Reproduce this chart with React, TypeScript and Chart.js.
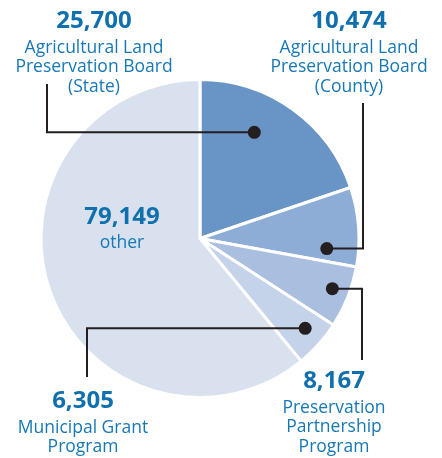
import React, { useEffect, useRef } from "react";
import { Chart, registerables } from "chart.js";

Chart.register(...registerables);

const categories = [
  "Agricultural Land Preservation Board (State)",
  "Agricultural Land Preservation Board (County)",
  "Preservation Partnership Program",
  "Municipal Grant Program",
  "other",
];
const values = [25700, 10474, 8167, 6305, 79149];
const valueLabels = ["25,700", "10,474", "8,167", "6,305", "79,149"];
const labelLines = [
  ["Agricultural Land", "Preservation Board", "(State)"],
  ["Agricultural Land", "Preservation Board", "(County)"],
  ["Preservation", "Partnership", "Program"],
  ["Municipal Grant", "Program"],
  ["other"],
];
const colors = ["#6895c5", "#8eadd6", "#aabfe0", "#c4d2ea", "#d9e1ef"];

// label layout (text anchor positions)
const labelPos = [
  { x: 94, y: 21 },
  { x: 349, y: 21 },
  { x: 334, y: 381 },
  { x: 83, y: 401 },
  { x: 122, y: 217 },
];
// leader dots: fraction along the arc's angle, fraction of radius
const dotSpec = [
  { f: 0.38, k: 0.75 },
  { f: 0.8, k: 0.8 },
  { f: 0.46, k: 0.89 },
  { f: 0.43, k: 0.87 },
  null,
];
// leader elbows: elbow x and end y
const leaderSpec = [
  { x: 47, y: 84 },
  { x: 363, y: 103 },
  { x: 362, y: 360 },
  { x: 87, y: 377 },
  null,
];

const TEXT = "#1778b5";
const FONT = "'Open Sans', 'Noto Sans', sans-serif";

const labelPlugin = {
  id: "pieLabels",
  afterDraw(chart: any) {
    const ctx = chart.ctx;
    const meta = chart.getDatasetMeta(0);
    ctx.save();
    meta.data.forEach((arc: any, i: number) => {
      const spec = dotSpec[i];
      const lead = leaderSpec[i];
      if (spec && lead) {
        const a = arc.startAngle + spec.f * (arc.endAngle - arc.startAngle);
        const r = arc.outerRadius * spec.k;
        const dx = arc.x + Math.cos(a) * r;
        const dy = arc.y + Math.sin(a) * r;
        ctx.strokeStyle = "#231f20";
        ctx.lineWidth = 2;
        ctx.beginPath();
        ctx.moveTo(dx, dy);
        ctx.lineTo(lead.x, dy);
        ctx.lineTo(lead.x, lead.y);
        ctx.stroke();
        ctx.fillStyle = "#231f20";
        ctx.beginPath();
        ctx.arc(dx, dy, 6.5, 0, Math.PI * 2);
        ctx.fill();
      }
      const p = labelPos[i];
      ctx.textAlign = "center";
      ctx.textBaseline = "middle";
      ctx.fillStyle = "#0f70ad";
      ctx.font = `bold 24px ${FONT}`;
      ctx.fillText(valueLabels[i], p.x, p.y);
      ctx.fillStyle = TEXT;
      ctx.font = `17.5px ${FONT}`;
      const lines = labelLines[i];
      const startY = i === 4 ? p.y + 26 : p.y + 27;
      lines.forEach((ln, j) => {
        ctx.fillText(ln, p.x, startY + j * 19.3);
      });
    });
    ctx.restore();
  },
};

export default function App() {
  const ref = useRef<HTMLCanvasElement>(null);
  useEffect(() => {
    if (!ref.current) return;
    const chart = new Chart(ref.current, {
      type: "pie",
      data: {
        labels: categories,
        datasets: [
          {
            data: values,
            backgroundColor: colors,
            borderColor: "#ffffff",
            borderWidth: 3,
          },
        ],
      },
      options: {
        responsive: false,
        animation: false,
        layout: { padding: { left: 39, right: 81, top: 78, bottom: 59 } },
        plugins: {
          legend: { display: false },
          tooltip: { enabled: false },
        },
      },
      plugins: [labelPlugin],
    });
    return () => chart.destroy();
  }, []);
  return (
    <div style={{ position: "fixed", left: 0, top: 0, width: 442, height: 458, background: "#fff" }}>
      <canvas ref={ref} width={442} height={458} style={{ width: 442, height: 458 }} />
    </div>
  );
}
